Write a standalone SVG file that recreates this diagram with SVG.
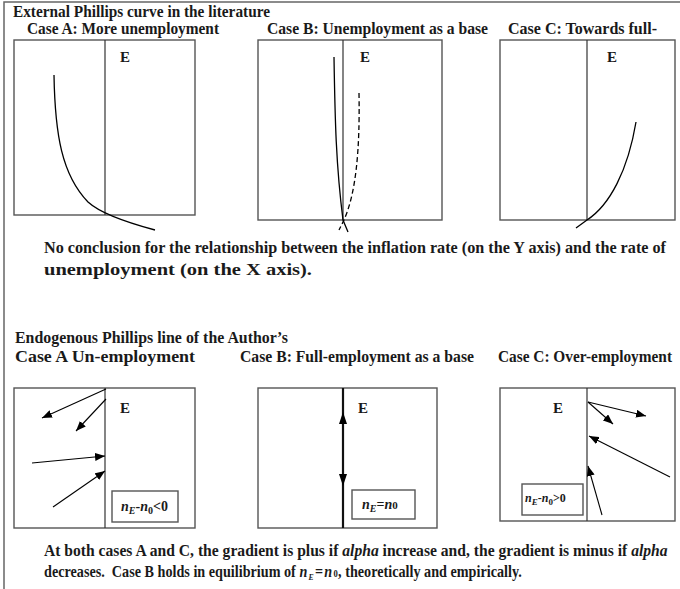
<svg xmlns="http://www.w3.org/2000/svg" width="680" height="589" viewBox="0 0 680 589">
<style>
text{font-family:"Liberation Serif","DejaVu Serif",serif;font-weight:bold;fill:#1a1a1a}
.t{font-size:16px}
.b{font-size:16.5px}
.e{font-size:15px}
.i{font-style:italic}
.lab{font-size:14px;font-style:italic}
.frame{fill:none;stroke:#666;stroke-width:1.5}
.box{fill:#fff;stroke:#555;stroke-width:1.4}
.ax{stroke:#333;stroke-width:1.2}
.cv{fill:none;stroke:#000;stroke-width:1.3}
.ar{stroke:#000;stroke-width:1.1;fill:none;marker-end:url(#ah)}
</style>
<defs>
<marker id="ah" viewBox="0 0 10 8" refX="10" refY="4" markerWidth="10" markerHeight="8" markerUnits="userSpaceOnUse" orient="auto">
<path d="M0,0 L10,4 L0,8 Z" fill="#000"/>
</marker>
</defs>
<rect width="680" height="589" fill="#fff"/>
<path class="frame" d="M680,2 H4 V589"/>

<g id="heading-top">
<text class="t" x="13" y="17" textLength="257" lengthAdjust="spacingAndGlyphs">External Phillips curve in the literature</text>
<text class="t" x="27" y="34" textLength="192" lengthAdjust="spacingAndGlyphs">Case A: More unemployment</text>
<text class="t" x="267" y="34" textLength="221" lengthAdjust="spacingAndGlyphs">Case B: Unemployment as a base</text>
<text class="t" x="508" y="34" textLength="149" lengthAdjust="spacingAndGlyphs">Case C: Towards full-</text>
</g>

<g id="top-case-a">
<rect class="box" x="14" y="40" width="181" height="175"/>
<line class="ax" x1="105" y1="40" x2="105" y2="215"/>
<text class="e" x="120" y="62">E</text>
<path class="cv" d="M54,75 C55,135 62,175 88,202 C100,213 125,222 155,230"/>
</g>

<g id="top-case-b">
<rect class="box" x="258" y="40" width="184" height="180"/>
<line class="ax" x1="343" y1="40" x2="343" y2="220"/>
<text class="e" x="360" y="62">E</text>
<path class="cv" d="M334,57 C335,120 336,165 343,220 L348,232"/>
<path class="cv" stroke-dasharray="5,3" d="M359,93 C360,150 356,195 343,222 L339,230"/>
</g>

<g id="top-case-c">
<rect class="box" x="500" y="40" width="175" height="180"/>
<line class="ax" x1="587" y1="40" x2="587" y2="220"/>
<text class="e" x="607" y="62">E</text>
<path class="cv" d="M636,122 C628,170 610,205 587,220 L576,228"/>
</g>

<g id="note-top">
<text class="b" x="44" y="253" textLength="622" lengthAdjust="spacingAndGlyphs">No conclusion for the relationship between the inflation rate (on the Y axis) and the rate of</text>
<text class="b" x="44" y="275" textLength="268" lengthAdjust="spacingAndGlyphs">unemployment (on the X axis).</text>
</g>

<g id="heading-bottom">
<text class="t" x="15" y="343" textLength="273" lengthAdjust="spacingAndGlyphs">Endogenous Phillips line of the Author’s</text>
<text class="t" x="15" y="362" textLength="180" lengthAdjust="spacingAndGlyphs">Case A Un-employment</text>
<text class="t" x="240" y="362" textLength="234" lengthAdjust="spacingAndGlyphs">Case B: Full-employment as a base</text>
<text class="t" x="498" y="362" textLength="174" lengthAdjust="spacingAndGlyphs">Case C: Over-employment</text>
</g>

<g id="bottom-case-a">
<rect class="box" x="14" y="388" width="181" height="140"/>
<line class="ax" x1="105" y1="388" x2="105" y2="528"/>
<text class="e" x="120" y="413">E</text>
<rect class="box" x="112" y="491" width="66" height="31"/>
<text class="lab" x="121" y="511">n<tspan font-size="10" baseline-shift="-3">E</tspan><tspan font-style="normal">-</tspan>n<tspan font-size="10" font-style="normal" baseline-shift="-3">0</tspan><tspan font-style="normal">&lt;0</tspan></text>
</g>

<g id="bottom-case-b">
<rect class="box" x="258" y="388" width="179" height="140"/>
<line x1="343" y1="388" x2="343" y2="528" stroke="#111" stroke-width="2.2"/>
<path d="M343,412 L347,424 L339,424 Z" fill="#000"/>
<path d="M343,486 L347,474 L339,474 Z" fill="#000"/>
<text class="e" x="358" y="413">E</text>
<rect class="box" x="352" y="490" width="63" height="29"/>
<text class="lab" x="362" y="509">n<tspan font-size="10" baseline-shift="-3">E</tspan><tspan font-style="normal">=</tspan>n<tspan font-size="11" font-style="normal">0</tspan></text>
</g>

<g id="bottom-case-c">
<rect class="box" x="500" y="388" width="175" height="133"/>
<line class="ax" x1="587" y1="388" x2="587" y2="521"/>
<text class="e" x="553" y="413">E</text>
<rect class="box" x="522" y="484" width="61" height="31"/>
<text class="lab" x="525" y="502" style="font-size:12px">n<tspan font-size="9" baseline-shift="-3">E</tspan><tspan font-style="normal">-</tspan>n<tspan font-size="9" font-style="normal" baseline-shift="-3">0</tspan><tspan font-style="normal">&gt;0</tspan></text>
</g>

<g id="connectors">
<line class="ar" x1="106" y1="389" x2="42" y2="418"/>
<line class="ar" x1="106" y1="399" x2="76" y2="431"/>
<line class="ar" x1="32" y1="463" x2="105" y2="456"/>
<line class="ar" x1="53" y1="507" x2="105" y2="471"/>
<line class="ar" x1="588" y1="402" x2="646" y2="416"/>
<line class="ar" x1="588" y1="402" x2="613" y2="424"/>
<line class="ar" x1="670" y1="477" x2="589" y2="436"/>
<line class="ar" x1="602" y1="515" x2="588" y2="466"/>
</g>

<g id="note-bottom">
<g transform="translate(44,556) scale(0.947,1)">
<text class="b" x="0" y="0">At both cases A and C, the gradient is plus if <tspan font-style="italic">alpha</tspan> increase and, the gradient is minus if <tspan font-style="italic">alpha</tspan></text>
</g>
<g transform="translate(44,577) scale(0.86,1)">
<text class="b" x="0" y="0">decreases.&#160; Case B holds in equilibrium of</text>
<text class="b i" x="297" y="0">n</text>
<text class="i" x="307.5" y="3" font-size="9">E</text>
<text class="b" x="315" y="0">=</text>
<text class="b i" x="326" y="0">n</text>
<text x="336.5" y="0" font-size="10">0</text>
<text class="b" x="342" y="0">, theoretically and empirically.</text>
</g>
</g>
</svg>
